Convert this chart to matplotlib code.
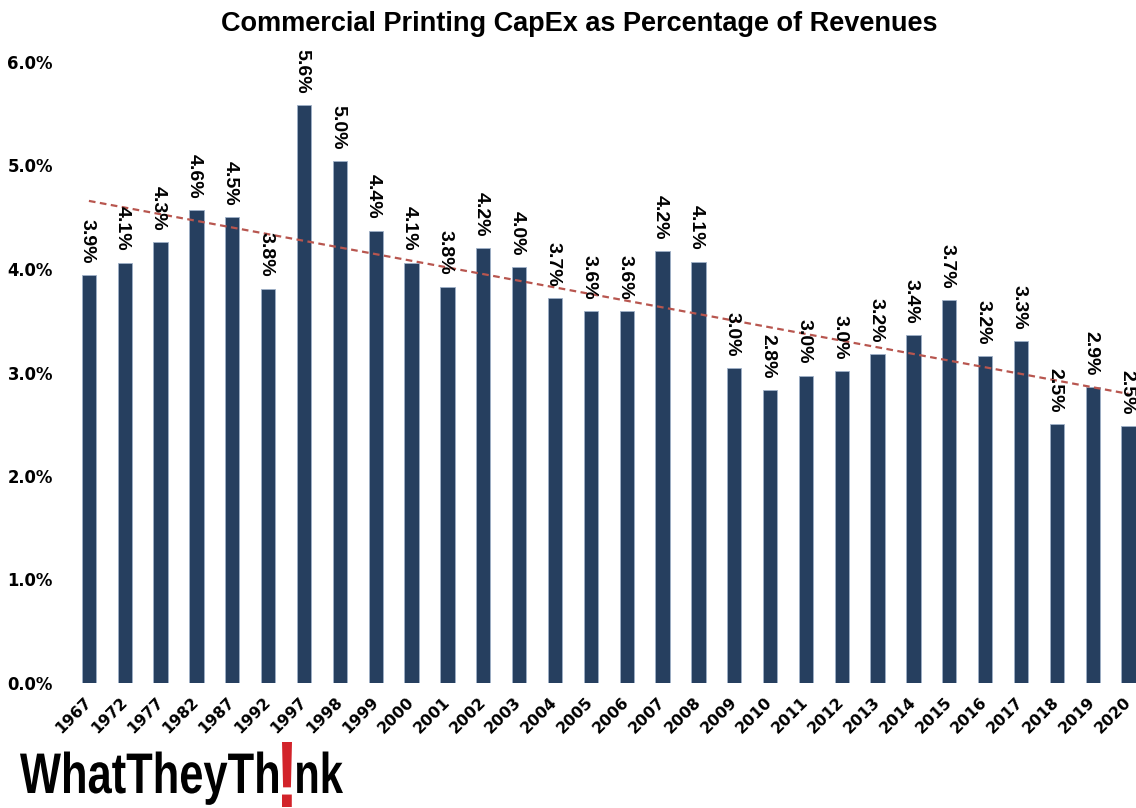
import numpy as np
import matplotlib
matplotlib.use("Agg")
import matplotlib.pyplot as plt
from matplotlib.textpath import TextPath
from matplotlib.patches import PathPatch
from matplotlib.font_manager import FontProperties
from matplotlib.transforms import Affine2D
from matplotlib.ticker import FuncFormatter

# Capital expenditure as a share of revenues, commercial printing
years = ["1967", "1972", "1977", "1982", "1987", "1992", "1997", "1998", "1999",
         "2000", "2001", "2002", "2003", "2004", "2005", "2006", "2007", "2008",
         "2009", "2010", "2011", "2012", "2013", "2014", "2015", "2016", "2017",
         "2018", "2019", "2020"]
capex_pct = [3.94, 4.06, 4.26, 4.57, 4.50, 3.81, 5.58, 5.04, 4.37,
             4.06, 3.83, 4.20, 4.02, 3.72, 3.59, 3.59, 4.17, 4.07,
             3.04, 2.83, 2.97, 3.01, 3.18, 3.36, 3.70, 3.16, 3.30,
             2.50, 2.86, 2.48]
y_ticks = [0, 1, 2, 3, 4, 5, 6]

BAR = "#263F5F"
TREND = "#B8564F"

W, H = 1136, 808
fig = plt.figure(figsize=(W / 100, H / 100), dpi=100)
ax = fig.add_axes([71 / W, 125 / H, 1075.5 / W, 621 / H])

x = np.arange(len(years))
ax.bar(x, capex_pct, width=0.40, color=BAR, edgecolor="#9FB0C8", linewidth=0.6)

# linear trend line across all periods
coef = np.polyfit(x, capex_pct, 1)
ax.plot(x, np.polyval(coef, x), color=TREND, lw=1.6, ls=(0, (3, 2)), zorder=3)

# value labels read top-to-bottom; nudge left so the glyphs sit centred on the bar
lab_font = FontProperties(family="Liberation Sans", weight="bold", size=14)
for xi, v in zip(x, capex_pct):
    ax.annotate(f"{v:.1f}%", (xi, v), xytext=(-1.5, 8.5), textcoords="offset points",
                rotation=270, ha="center", va="bottom", fontproperties=lab_font,
                annotation_clip=False)

ax.set_xlim(-0.5, len(years) - 0.5)
ax.set_ylim(0, 6)
ax.set_yticks(y_ticks)
ax.yaxis.set_major_formatter(FuncFormatter(lambda v, _: f"{v:.1f}%"))
ax.set_xticks(x)
ax.set_xticklabels(years, rotation=45, ha="right", va="center", rotation_mode="anchor")
for s in ax.spines.values():
    s.set_visible(False)
ax.tick_params(axis="y", length=0, pad=13, labelsize=11.9)
ax.tick_params(axis="x", length=0, pad=12, labelsize=11.3)
for t in ax.get_yticklabels() + ax.get_xticklabels():
    t.set_fontweight("bold")
    t.set_family("DejaVu Sans")

fig.text(579.5 / W, 1 - 31 / H, "Commercial Printing CapEx as Percentage of Revenues",
         ha="center", va="baseline", fontsize=19.5, fontweight="bold",
         family="Liberation Sans")

# wordmark in the lower left, drawn in pixel coordinates
logo = fig.add_axes([0, 0, 1, 1], zorder=5)
logo.set_xlim(0, W)
logo.set_ylim(0, H)
logo.axis("off")
logo.patch.set_alpha(0)

logo_font = FontProperties(family="Liberation Sans", weight="bold")
cap = 41.0
size = cap / 0.716
baseline = H - 793


def word(text, x0, x1, color):
    p = TextPath((0, 0), text, size=size, prop=logo_font)
    ext = p.get_extents()
    sx = (x1 - x0) / ext.width
    tr = Affine2D().translate(-ext.x0, 0).scale(sx, 1).translate(x0, baseline)
    logo.add_patch(PathPatch(tr.transform_path(p), fc=color, ec="none"))


word("WhatTheyTh", 20, 278, "black")
word("nk", 297, 343, "black")

bang = TextPath((0, 0), "!", size=90, prop=logo_font)
e = bang.get_extents()
tb = (Affine2D().translate(-e.x0, -e.y0)
      .scale(10 / e.width, 65 / e.height)
      .translate(282, H - 807))
logo.add_patch(PathPatch(tb.transform_path(bang), fc="#D2232A", ec="none"))

fig.savefig("out.png", dpi=100)
